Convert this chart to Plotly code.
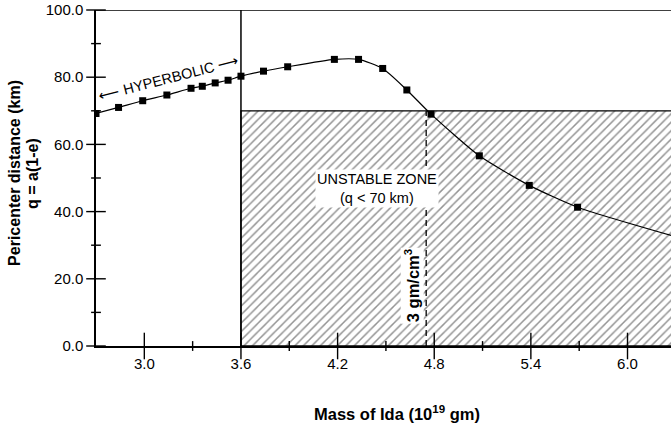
import plotly.graph_objects as go

# Pericenter distance versus assumed mass of Ida
mass = [2.70, 2.84, 2.99, 3.14, 3.29, 3.36, 3.44, 3.52, 3.60, 3.74, 3.89,
        4.18, 4.33, 4.48, 4.63, 4.78, 5.08, 5.39, 5.69]
pericenter = [69.2, 71.0, 73.0, 74.7, 76.7, 77.3, 78.3, 79.1, 80.3, 81.8, 83.1,
              85.3, 85.3, 82.6, 76.2, 69.0, 56.6, 47.8, 41.3]

# fitted curve continues past the last computed point
curve_mass = mass + [6.30]
curve_q = pericenter + [32.5]

# zone boundaries
HYPERBOLIC_LIMIT = 3.6     # below this mass the orbit is hyperbolic
UNSTABLE_Q = 70.0          # q < 70 km is unstable
DENSITY_3_MASS = 4.75      # mass for a density of 3 gm/cm^3

x_range = [2.70, 6.27]
y_range = [0.0, 100.0]
x_ticks = [3.0, 3.6, 4.2, 4.8, 5.4, 6.0]
x_minor = [3.3, 3.9, 4.5, 5.1, 5.7]
y_ticks = [0, 20, 40, 60, 80, 100]
y_minor = [10, 30, 50, 70, 90]

FONT = "Liberation Sans, Arial, Helvetica, sans-serif"

fig = go.Figure()

# hatched unstable zone
fig.add_trace(go.Scatter(
    x=[HYPERBOLIC_LIMIT, 7.0, 7.0, HYPERBOLIC_LIMIT, HYPERBOLIC_LIMIT],
    y=[0, 0, UNSTABLE_Q, UNSTABLE_Q, 0],
    mode="lines", fill="toself",
    fillcolor="white",
    fillpattern=dict(shape="/", size=6, solidity=0.25, fgcolor="#2a2a2a", bgcolor="white"),
    line=dict(color="black", width=1.3),
    hoverinfo="skip", showlegend=False,
))

# smooth curve
fig.add_trace(go.Scatter(
    x=curve_mass, y=curve_q, mode="lines",
    line=dict(color="black", width=1.2, shape="spline", smoothing=0.6),
    hoverinfo="skip", showlegend=False,
))

# computed points
fig.add_trace(go.Scatter(
    x=mass, y=pericenter, mode="markers",
    marker=dict(symbol="square", size=7, color="black"),
    showlegend=False,
))


def tick_marks(xs, ys, symbol, size):
    """Tick marks that straddle the axis line."""
    return go.Scatter(
        x=xs, y=ys, mode="markers", cliponaxis=False,
        marker=dict(symbol=symbol, size=size, color="black",
                    line=dict(color="black", width=1.4)),
        hoverinfo="skip", showlegend=False,
    )


fig.add_trace(tick_marks(x_ticks, [y_range[0]] * len(x_ticks), "line-ns-open", 19))
fig.add_trace(tick_marks(x_minor, [y_range[0]] * len(x_minor), "line-ns-open", 7))
fig.add_trace(tick_marks([x_range[0]] * len(y_ticks), y_ticks, "line-ew-open", 14))
fig.add_trace(tick_marks([x_range[0]] * len(y_minor), y_minor, "line-ew-open", 7))

fig.update_layout(
    width=671, height=426,
    margin=dict(l=96, r=0, t=10, b=80),
    paper_bgcolor="white", plot_bgcolor="white",
    font=dict(family=FONT, size=15, color="black"),
    xaxis=dict(
        range=x_range, tickmode="array", tickvals=x_ticks,
        ticktext=[f"{v:.1f}" for v in x_ticks],
        ticks="outside", ticklen=3, tickcolor="rgba(0,0,0,0)",
        showline=True, linecolor="black", linewidth=1.5,
        showgrid=False, zeroline=False,
    ),
    yaxis=dict(
        range=y_range, tickmode="array", tickvals=y_ticks,
        ticktext=[f"{v:.1f}" for v in y_ticks],
        ticks="outside", ticklen=8, tickcolor="rgba(0,0,0,0)",
        showline=True, linecolor="black", linewidth=1.5,
        showgrid=False, zeroline=False,
    ),
)

# frame top and hyperbolic boundary
fig.add_shape(type="line", xref="paper", x0=0, x1=1, yref="y", y0=y_range[1], y1=y_range[1],
              line=dict(color="black", width=1.3))
fig.add_shape(type="line", xref="x", x0=HYPERBOLIC_LIMIT, x1=HYPERBOLIC_LIMIT,
              yref="y", y0=y_range[0], y1=y_range[1],
              line=dict(color="black", width=1.5))
# density marker
fig.add_shape(type="line", xref="x", x0=DENSITY_3_MASS, x1=DENSITY_3_MASS,
              yref="y", y0=0, y1=UNSTABLE_Q,
              line=dict(color="black", width=1.3, dash="6px,4px"))

fig.add_annotation(
    x=3.155, y=79.8, xref="x", yref="y",
    text="⟵ HYPERBOLIC ⟶", textangle=-14.5, showarrow=False,
    font=dict(family=FONT, size=14.5),
)
fig.add_annotation(
    x=4.445, y=47.0, xref="x", yref="y",
    text="UNSTABLE ZONE<br>(q &lt; 70 km)", showarrow=False,
    bgcolor="white", borderpad=1,
    font=dict(family=FONT, size=14.5),
)
fig.add_annotation(
    x=4.66, y=18.0, xref="x", yref="y",
    text="<b>3 gm/cm<sup>3</sup></b>", textangle=-90, showarrow=False,
    bgcolor="white", borderpad=1,
    font=dict(family=FONT, size=16.5),
)

# axis titles
fig.add_annotation(
    x=0.5235, y=-0.199, xref="paper", yref="paper",
    text="<b>Mass of Ida (10<sup>19</sup> gm)</b>", showarrow=False,
    xanchor="center", yanchor="middle",
    font=dict(family=FONT, size=16.5),
)
fig.add_annotation(
    x=-0.141, y=0.515, xref="paper", yref="paper",
    text="<b>Pericenter distance (km)</b>", textangle=-90, showarrow=False,
    xanchor="center", yanchor="middle",
    font=dict(family=FONT, size=16),
)
fig.add_annotation(
    x=-0.1096, y=0.515, xref="paper", yref="paper",
    text="<b>q = a(1-e)</b>", textangle=-90, showarrow=False,
    xanchor="center", yanchor="middle",
    font=dict(family=FONT, size=16),
)

fig.write_html("out.html")
